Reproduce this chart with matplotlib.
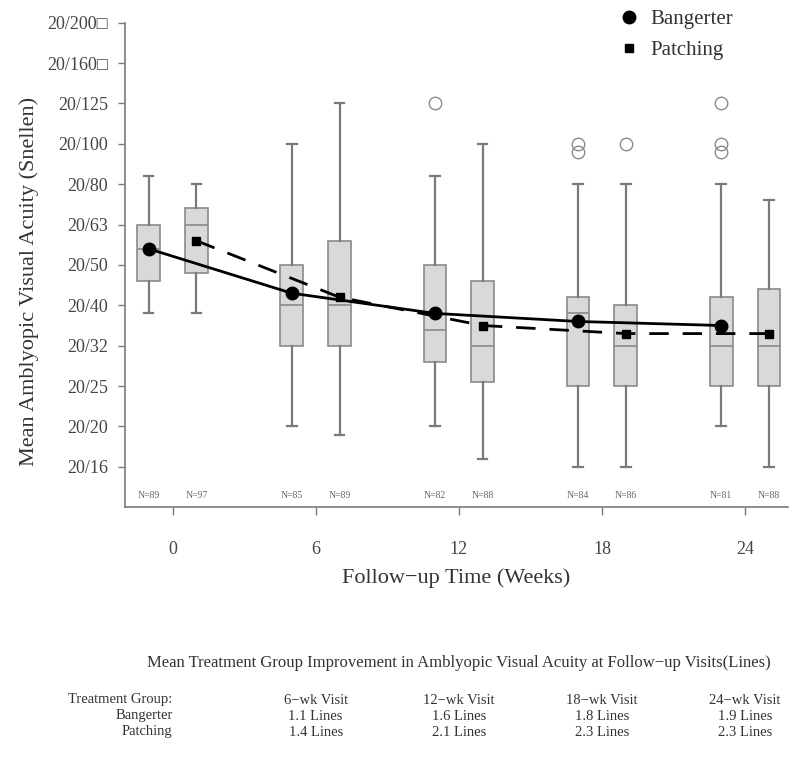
import matplotlib
matplotlib.use('Agg')
import matplotlib.pyplot as plt
import matplotlib.transforms as mtransforms
from matplotlib.lines import Line2D

plt.rcParams['font.family'] = ['Liberation Serif', 'DejaVu Sans']

# follow-up visits (weeks) and box data on the logMAR scale
weeks = [0, 6, 12, 18, 24]

bang_whislo = [0.28, 0.0, 0.0, -0.1, 0.0]
bang_q1 = [0.36, 0.2, 0.16, 0.1, 0.1]
bang_med = [0.44, 0.3, 0.24, 0.28, 0.2]
bang_q3 = [0.5, 0.4, 0.4, 0.32, 0.32]
bang_whishi = [0.62, 0.7, 0.62, 0.6, 0.6]
bang_fliers = [[], [], [0.8], [0.7, 0.68], [0.8, 0.7, 0.68]]
bang_mean = [0.44, 0.33, 0.28, 0.26, 0.25]
bang_n = [89, 85, 82, 84, 81]

patch_whislo = [0.28, -0.02, -0.08, -0.1, -0.1]
patch_q1 = [0.38, 0.2, 0.11, 0.1, 0.1]
patch_med = [0.5, 0.3, 0.2, 0.2, 0.2]
patch_q3 = [0.54, 0.46, 0.36, 0.3, 0.34]
patch_whishi = [0.6, 0.8, 0.7, 0.6, 0.56]
patch_fliers = [[], [], [], [0.7], []]
patch_mean = [0.46, 0.32, 0.25, 0.23, 0.23]
patch_n = [97, 89, 88, 86, 88]

# y ticks: logMAR value -> Snellen label
ytick_logmar = [-0.1, 0.0, 0.1, 0.2, 0.3, 0.4, 0.5, 0.6, 0.7, 0.8, 0.9, 1.0]
ytick_labels = ['20/16', '20/20', '20/25', '20/32', '20/40', '20/50', '20/63',
                '20/80', '20/100', '20/125', '20/160\u25a1', '20/200\u25a1']

# summary table
table_cols = ['6\u2212wk Visit', '12\u2212wk Visit', '18\u2212wk Visit', '24\u2212wk Visit']
table_weeks = [6, 12, 18, 24]
bang_lines = [1.1, 1.6, 1.8, 1.9]
patch_lines = [1.4, 2.1, 2.3, 2.3]

grey = '#7a7a7a'
txt = '#444444'

fig = plt.figure(figsize=(8, 7.57), dpi=100)
ax = fig.add_axes([0.156, 0.330, 0.829, 0.640])

def stats(wlo, q1, med, q3, whi, fl):
    return [dict(whislo=a, q1=b, med=c, q3=d, whishi=e, fliers=f)
            for a, b, c, d, e, f in zip(wlo, q1, med, q3, whi, fl)]

bang_pos = [w - 1 for w in weeks]
patch_pos = [w + 1 for w in weeks]

box_kw = dict(widths=0.95, patch_artist=True, manage_ticks=False,
              boxprops=dict(facecolor='#d9d9d9', edgecolor='#8a8a8a', linewidth=1.2),
              medianprops=dict(color='#8a8a8a', linewidth=1.2),
              whiskerprops=dict(color=grey, linewidth=1.6),
              capprops=dict(color=grey, linewidth=1.6),
              capwidths=0.4,
              flierprops=dict(marker='o', markerfacecolor='none',
                              markeredgecolor='#8a8a8a', markersize=9))

ax.bxp(stats(bang_whislo, bang_q1, bang_med, bang_q3, bang_whishi, bang_fliers),
       positions=bang_pos, **box_kw)
ax.bxp(stats(patch_whislo, patch_q1, patch_med, patch_q3, patch_whishi, patch_fliers),
       positions=patch_pos, **box_kw)

ax.plot(bang_pos, bang_mean, color='black', linewidth=2, marker='o', markersize=9, zorder=5)
ax.plot(patch_pos, patch_mean, color='black', linewidth=2, linestyle=(0, (7, 5)),
        marker='s', markersize=6, zorder=5)

# sample sizes
for p, n in zip(bang_pos, bang_n):
    ax.text(p, -0.17, f'N={n}', ha='center', va='center', fontsize=7, color='#666666')
for p, n in zip(patch_pos, patch_n):
    ax.text(p, -0.17, f'N={n}', ha='center', va='center', fontsize=7, color='#666666')

ax.set_xlim(-2, 25.8)
ax.set_ylim(-0.2, 1.0)
ax.set_xticks(weeks)
ax.set_yticks(ytick_logmar)
ax.set_yticklabels(ytick_labels)
ax.tick_params(axis='x', length=6, width=1, color=grey, labelsize=13,
               labelcolor=txt, pad=18)
ax.tick_params(axis='y', length=5, width=1, color=grey, labelsize=13,
               labelcolor=txt, pad=7)
for s in ['top', 'right']:
    ax.spines[s].set_visible(False)
for s in ['left', 'bottom']:
    ax.spines[s].set_color(grey)
    ax.spines[s].set_linewidth(1.2)

ax.set_ylabel('Mean Amblyopic Visual Acuity (Snellen)', fontsize=16, color='#333333')
ax.yaxis.set_label_coords(-0.13, 0.467)
ax.set_xlabel('Follow\u2212up Time (Weeks)', fontsize=16, color='#333333', labelpad=8)

handles = [Line2D([], [], color='black', marker='o', linestyle='none', markersize=9),
           Line2D([], [], color='black', marker='s', linestyle='none', markersize=6)]
fig.legend(handles, ['Bangerter', 'Patching'], loc='upper left',
           bbox_to_anchor=(0.737, 1.012), frameon=False, fontsize=15,
           handletextpad=0.0, labelspacing=0.55, labelcolor='#333333')

# table under the plot, columns aligned with the week ticks
trans = mtransforms.blended_transform_factory(ax.transData, fig.transFigure)
fig.text(0.574, 1 - 663 / 757, 'Mean Treatment Group Improvement in Amblyopic Visual Acuity at Follow\u2212up Visits(Lines)',
         ha='center', va='center', fontsize=12, color='#333333')
rows_y = [1 - 700 / 757, 1 - 716 / 757, 1 - 732 / 757]
ax.text(0, rows_y[0], 'Treatment Group:', transform=trans, ha='right', va='center',
        fontsize=10.5, color='#333333')
ax.text(0, rows_y[1], 'Bangerter', transform=trans, ha='right', va='center',
        fontsize=10.5, color='#333333')
ax.text(0, rows_y[2], 'Patching', transform=trans, ha='right', va='center',
        fontsize=10.5, color='#333333')
for w, c, b, p in zip(table_weeks, table_cols, bang_lines, patch_lines):
    ax.text(w, rows_y[0], c, transform=trans, ha='center', va='center', fontsize=10.5, color='#333333')
    ax.text(w, rows_y[1], f'{b} Lines', transform=trans, ha='center', va='center', fontsize=10.5, color='#333333')
    ax.text(w, rows_y[2], f'{p} Lines', transform=trans, ha='center', va='center', fontsize=10.5, color='#333333')

plt.savefig('out.png', dpi=100)
